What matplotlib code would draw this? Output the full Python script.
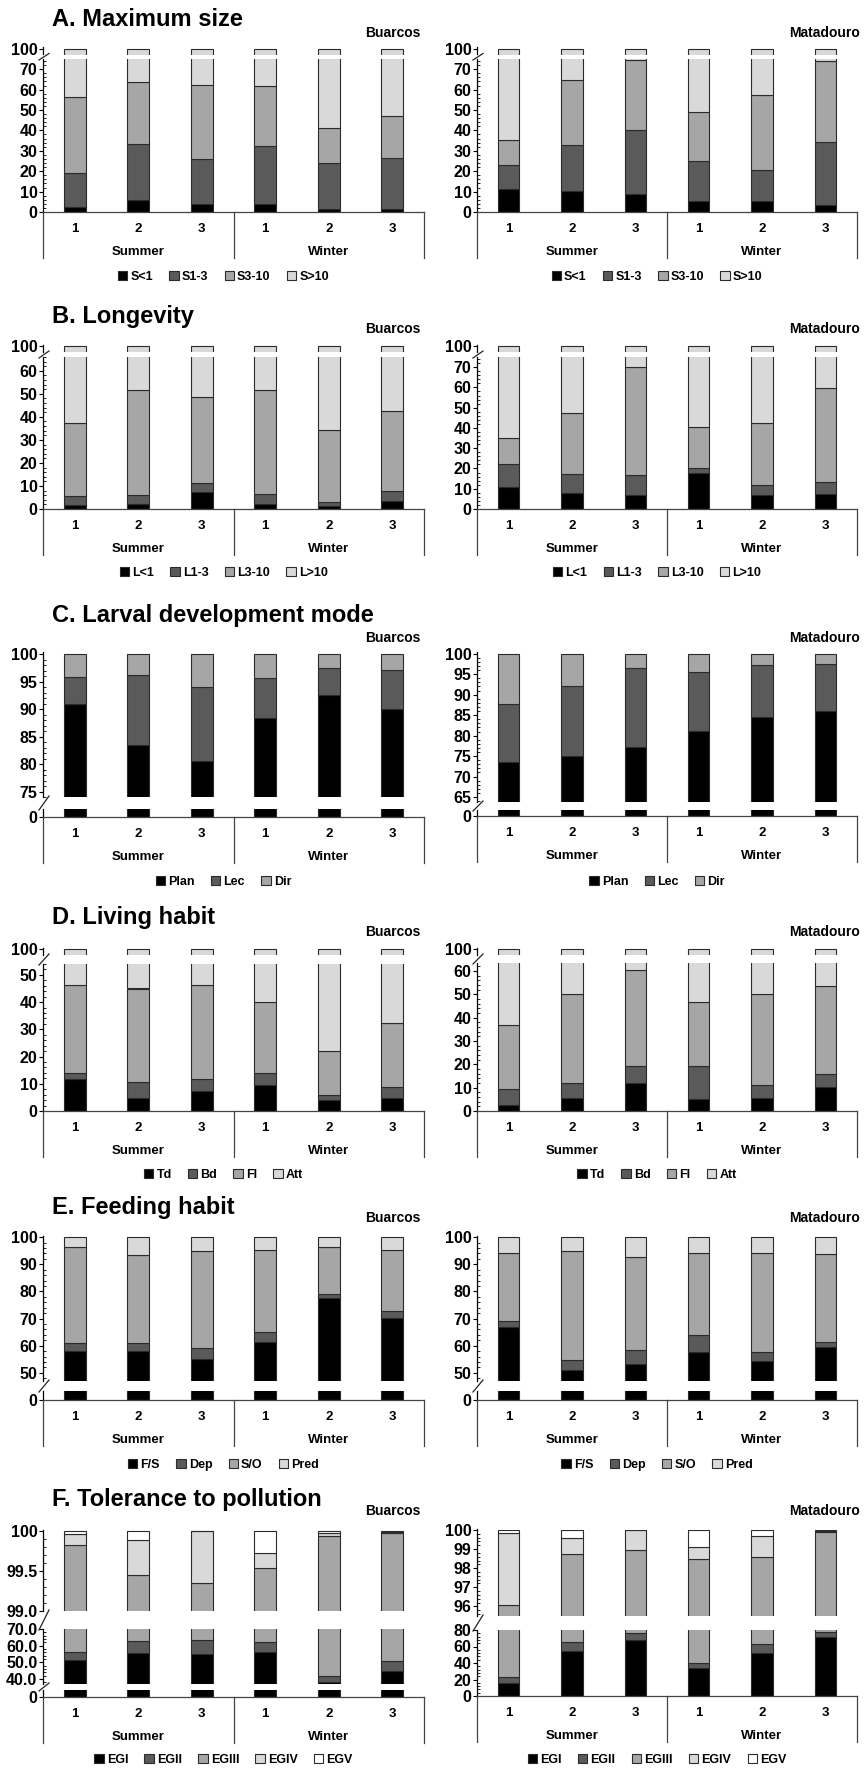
import matplotlib
matplotlib.use("Agg")
import matplotlib.pyplot as plt
import numpy as np
from matplotlib.lines import Line2D
from matplotlib.patches import Patch
from matplotlib.ticker import AutoMinorLocator, NullLocator
from matplotlib.transforms import blended_transform_factory, offset_copy

plt.rcParams["font.family"] = ["Liberation Sans", "DejaVu Sans"]
plt.rcParams["font.weight"] = "bold"

# ---- data (percent of each class per station) ----
stations = ["1", "2", "3", "1", "2", "3"]
seasons = ["Summer", "Winter"]

size_labels = ["S<1", "S1-3", "S3-10", "S>10"]
size_buarcos = [
    [2.6, 5.9, 3.9, 3.8, 1.6, 1.6],
    [16.4, 27.4, 21.9, 28.5, 22.4, 24.8],
    [37.5, 30.2, 36.7, 29.4, 17.1, 20.9],
    [43.5, 36.5, 37.5, 38.3, 58.9, 52.7],
]
size_matadouro = [
    [11.4, 10.4, 9.0, 5.2, 5.4, 3.6],
    [11.6, 22.6, 31.3, 19.9, 15.2, 30.5],
    [12.2, 31.6, 34.1, 24.0, 36.7, 40.0],
    [64.8, 35.4, 25.6, 50.9, 42.7, 25.9],
]

longevity_labels = ["L<1", "L1-3", "L3-10", "L>10"]
longevity_buarcos = [
    [1.6, 2.0, 7.5, 2.3, 1.3, 3.3],
    [4.0, 3.9, 3.9, 4.2, 1.6, 4.5],
    [31.6, 45.9, 37.4, 45.3, 31.4, 34.9],
    [62.8, 48.2, 51.2, 48.2, 65.7, 57.3],
]
longevity_matadouro = [
    [10.8, 7.9, 6.7, 17.9, 7.1, 7.4],
    [11.2, 9.5, 10.2, 2.5, 4.9, 5.9],
    [13.1, 30.1, 53.4, 20.0, 30.5, 46.3],
    [64.9, 52.5, 29.7, 59.6, 57.5, 40.4],
]

larval_labels = ["Plan", "Lec", "Dir"]
larval_buarcos = [
    [91.0, 83.4, 80.6, 88.4, 92.5, 90.0],
    [4.9, 12.8, 13.4, 7.2, 4.9, 7.1],
    [4.1, 3.8, 6.0, 4.4, 2.6, 2.9],
]
larval_matadouro = [
    [73.5, 75.1, 77.1, 81.2, 84.5, 86.0],
    [14.2, 17.0, 19.5, 14.3, 12.8, 11.4],
    [12.3, 7.9, 3.4, 4.5, 2.7, 2.6],
]

living_labels = ["Td", "Bd", "Fl", "Att"]
living_buarcos = [
    [11.9, 4.9, 7.4, 9.7, 3.9, 4.9],
    [2.2, 5.7, 4.4, 4.2, 2.0, 3.9],
    [32.2, 34.4, 34.6, 26.0, 16.0, 23.4],
    [53.7, 55.0, 53.6, 60.1, 78.1, 67.8],
]
living_matadouro = [
    [2.4, 5.6, 12.0, 5.3, 5.6, 10.3],
    [6.9, 6.6, 7.2, 13.9, 5.7, 5.6],
    [27.4, 37.8, 41.3, 27.4, 39.1, 37.7],
    [63.3, 50.0, 39.5, 53.4, 49.6, 46.4],
]

feeding_labels = ["F/S", "Dep", "S/O", "Pred"]
feeding_buarcos = [
    [58.1, 58.0, 55.2, 61.3, 77.5, 70.1],
    [3.0, 3.0, 3.8, 3.8, 1.4, 2.7],
    [35.1, 32.5, 36.0, 30.2, 17.4, 22.5],
    [3.8, 6.5, 5.0, 4.7, 3.7, 4.7],
]
feeding_matadouro = [
    [66.9, 50.9, 53.3, 57.5, 54.5, 59.7],
    [2.3, 4.0, 5.0, 6.3, 3.1, 1.8],
    [25.0, 40.1, 34.2, 30.4, 36.6, 32.2],
    [5.8, 5.0, 7.5, 5.8, 5.8, 6.3],
]

pollution_labels = ["EGI", "EGII", "EGIII", "EGIV", "EGV"]
pollution_buarcos = [
    [51.6, 55.6, 55.0, 56.0, 38.0, 45.0],
    [4.6, 7.0, 8.6, 6.0, 4.0, 6.0],
    [43.62, 36.85, 35.75, 37.53, 57.93, 48.97],
    [0.14, 0.44, 0.65, 0.19, 0.04, 0.02],
    [0.04, 0.11, 0.0, 0.28, 0.03, 0.01],
]
pollution_matadouro = [
    [15.4, 54.5, 67.9, 34.3, 51.7, 71.9],
    [8.0, 11.4, 8.1, 6.1, 10.9, 6.1],
    [72.65, 32.85, 22.96, 58.07, 35.97, 21.91],
    [3.78, 0.85, 1.01, 0.66, 1.13, 0.05],
    [0.17, 0.40, 0.03, 0.87, 0.30, 0.04],
]

GREYS = ["#000000", "#5a5a5a", "#a6a6a6", "#d9d9d9", "#ffffff"]
EDGE = "#2b2b2b"
W, H = 865, 1771

fig = plt.figure(figsize=(W / 100, H / 100), dpi=100)


def ticks_of(lo, hi, step, fmt="{:.0f}"):
    vals = list(np.arange(lo, hi + step / 2, step))
    return vals, [fmt.format(v) for v in vals]


def fig_line(xs, ys, **kw):
    fig.add_artist(Line2D([x / W for x in xs], [1 - y / H for y in ys],
                          transform=fig.transFigure, **kw))


def draw_panel(x0, x1, segs, data, labels, site, site_x, site_y, leg_y):
    xs = np.arange(6)
    ax = None
    prev_bottom = None
    for i, (lo, hi, p_lo, p_hi, ticks, ticklabels) in enumerate(segs):
        ax = fig.add_axes([x0 / W, 1 - p_lo / H, (x1 - x0) / W, (p_lo - p_hi) / H])
        bottom = np.zeros(6)
        for k, vals in enumerate(data):
            ax.bar(xs, vals, 0.34, bottom=bottom, color=GREYS[k],
                   edgecolor=EDGE, linewidth=0.8)
            bottom = bottom + np.array(vals)
        ax.set_xlim(-0.5, 5.5)
        ax.set_ylim(lo, hi)
        ax.set_yticks(ticks)
        ax.set_yticklabels(ticklabels)
        if len(ticks) > 1:
            ax.yaxis.set_minor_locator(AutoMinorLocator(5))
        else:
            ax.yaxis.set_minor_locator(NullLocator())
        ax.tick_params(axis="y", which="major", direction="out", length=3,
                       width=0.8, pad=1, labelsize=11.5)
        ax.tick_params(axis="y", which="minor", direction="in", length=2.5, width=0.6)
        ax.tick_params(axis="x", bottom=False, labelbottom=False)
        ax.spines[["top", "right"]].set_visible(False)
        ax.spines["left"].set_linewidth(0.9)
        last = i == len(segs) - 1
        ax.spines["bottom"].set_visible(last)
        if last:
            ax.spines["bottom"].set_linewidth(0.9)
            ax.spines["bottom"].set_color("#444444")
        ax.patch.set_alpha(0)
        if prev_bottom is not None:
            fig_line([x0 - 4, x0 + 6], [p_hi + 1, prev_bottom - 1],
                     color="#222222", lw=0.9)
        prev_bottom = p_lo

    # category axis below the lowest segment
    hpx = segs[-1][2] - segs[-1][3]
    trans = blended_transform_factory(ax.transData, ax.transAxes)
    for i, s in enumerate(stations):
        ax.text(i, 0, s, transform=offset_copy(trans, fig=fig, y=-17, units="dots"),
                ha="center", va="center", fontsize=9.5, fontweight="bold")
    for j, s in enumerate(seasons):
        ax.text(1 + 3 * j, 0, s, transform=offset_copy(trans, fig=fig, y=-40, units="dots"),
                ha="center", va="center", fontsize=9.5, fontweight="bold")
    for xv in (-0.5, 2.5, 5.5):
        ax.plot([xv, xv], [0, -46 / hpx], transform=trans, clip_on=False,
                color="#444444", lw=0.9)

    fig.text(site_x / W, 1 - site_y / H, site, ha="right", va="center",
             fontsize=10, fontweight="bold")
    handles = [Patch(facecolor=GREYS[k], edgecolor=EDGE, linewidth=0.8)
               for k in range(len(labels))]
    fig.legend(handles, labels, loc="center",
               bbox_to_anchor=((x0 + x1) / 2 / W - 10 / W, 1 - leg_y / H),
               ncol=len(labels), frameon=False, handlelength=0.75, handleheight=0.75,
               handletextpad=0.25, columnspacing=1.3, borderpad=0, borderaxespad=0,
               prop={"weight": "bold", "size": 9})


LX = (43, 424)
RX = (477, 857)

cap = (97.5, 100.6)


def cap_seg(p_lo):
    return (cap[0], cap[1], p_lo, p_lo - 7, [100], ["100"])


def stub_seg(p_lo, p_hi):
    return (0, 2, p_lo, p_hi, [0], ["0"])


# (title, title baseline, site y, legend y, left segs, right segs, data, labels)
rows = [
    ("A. Maximum size", 26, 33, 277,
     [cap_seg(54.5), (0, 75, 212, 59, *ticks_of(0, 70, 10))],
     [cap_seg(54.5), (0, 75, 212, 59, *ticks_of(0, 70, 10))],
     size_buarcos, size_matadouro, size_labels),
    ("B. Longevity", 323, 329, 573,
     [cap_seg(352), (0, 66, 509, 357, *ticks_of(0, 60, 10))],
     [cap_seg(352), (0, 75, 509, 357, *ticks_of(0, 70, 10))],
     longevity_buarcos, longevity_matadouro, longevity_labels),
    ("C. Larval development mode", 622, 638, 882,
     [(74, 100.4, 797, 652, *ticks_of(75, 100, 5)), stub_seg(817, 809)],
     [(63.8, 100.4, 802, 652, *ticks_of(65, 100, 5)), stub_seg(816, 810)],
     larval_buarcos, larval_matadouro, larval_labels),
    ("D. Living habit", 924, 932, 1175,
     [cap_seg(955), (0, 54, 1111, 964, *ticks_of(0, 50, 10))],
     [cap_seg(955), (0, 63.5, 1111, 963, *ticks_of(0, 60, 10))],
     living_buarcos, living_matadouro, living_labels),
    ("E. Feeding habit", 1214, 1218, 1465,
     [(47, 100.4, 1381, 1236, *ticks_of(50, 100, 10)), stub_seg(1400, 1391)],
     [(47, 100.4, 1381, 1236, *ticks_of(50, 100, 10)), stub_seg(1400, 1391)],
     feeding_buarcos, feeding_matadouro, feeding_labels),
    ("F. Tolerance to pollution", 1506, 1511, 1760,
     [(99, 100.015, 1611, 1529.5, [99, 99.5, 100], ["99.0", "99.5", "100"]),
      (37, 70, 1684, 1629, *ticks_of(40, 70, 10, "{:.1f}")),
      stub_seg(1697, 1690)],
     [(95.5, 100.02, 1616, 1529.5, *ticks_of(96, 100, 1)),
      (0, 80, 1696, 1630, *ticks_of(0, 80, 20))],
     pollution_buarcos, pollution_matadouro, pollution_labels),
]

for title, ty, sy, ly, segs_l, segs_r, d_l, d_r, labs in rows:
    fig.text(52 / W, 1 - ty / H, title, ha="left", va="baseline",
             fontsize=17, fontweight="bold")
    draw_panel(*LX, segs_l, d_l, labs, "Buarcos", 421, sy, ly)
    draw_panel(*RX, segs_r, d_r, labs, "Matadouro", 860, sy, ly)

fig.savefig("out.png", dpi=100)
